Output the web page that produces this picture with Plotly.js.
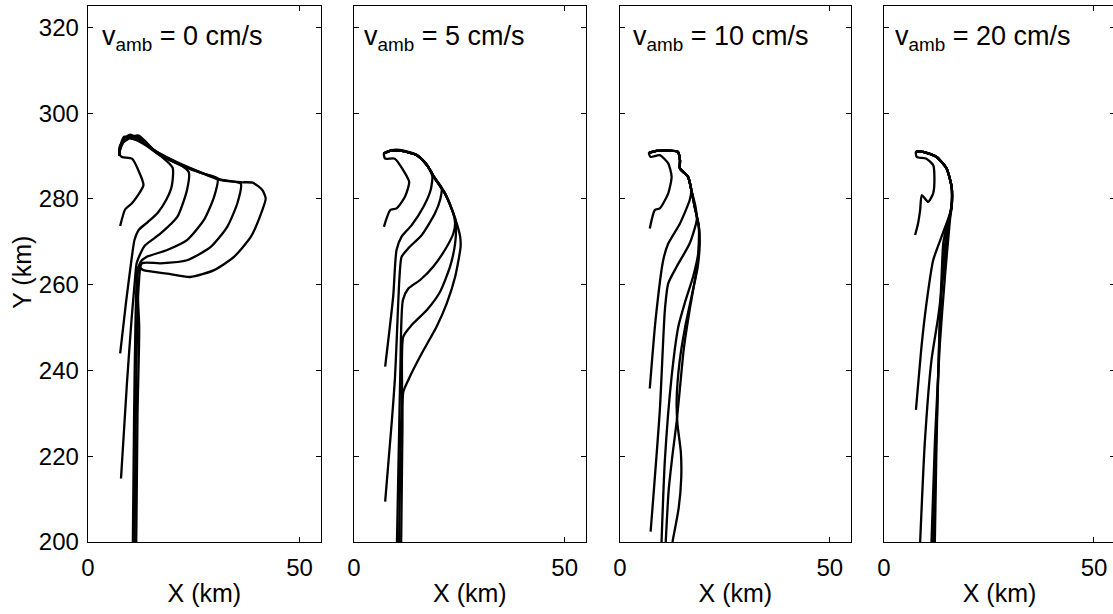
<!DOCTYPE html>
<html>
<head>
<meta charset="utf-8">
<script src="https://cdn.plot.ly/plotly-3.0.1.min.js"></script>
<style>
html,body{margin:0;padding:0;overflow:hidden;background:#fff;}
#chart{width:1120px;height:614px;}
</style>
</head>
<body>
<div id="chart"></div>
<script>
// ---------- Data (km) ----------
const panelLabels = ["v<sub>amb</sub> = 0 cm/s", "v<sub>amb</sub> = 5 cm/s", "v<sub>amb</sub> = 10 cm/s", "v<sub>amb</sub> = 20 cm/s"];
const xTicks = [0, 50];
const yTicks = [200, 220, 240, 260, 280, 300, 320];
const xTitle = "X (km)";
const yTitle = "Y (km)";

// Panel 1 (v_amb = 0)
const p1c1x = [7.6, 8.8, 10.4, 13.1, 12.2, 10.4, 8.0, 7.4, 8.0, 9.2, 11.5, 14.5, 17.5, 19.5];
const p1c1y = [273.7, 277.6, 279.0, 283.2, 286.0, 289.4, 289.8, 290.6, 292.5, 294.2, 294.6, 292.2, 290.0, 289.2];
const p1c2x = [7.6, 9.0, 10.3, 11.0, 12.0, 14.0, 16.5, 18.5, 19.8, 20.0, 17.0, 14.0, 11.2, 9.0, 7.7, 7.4];
const p1c2y = [244.0, 256.0, 266.0, 270.5, 272.8, 274.5, 276.8, 279.8, 283.0, 287.3, 290.2, 292.3, 293.8, 294.4, 292.3, 290.3];
const p1c3x = [7.8, 9.2, 10.3, 11.0, 11.5, 12.4, 13.5, 17.1, 21.1, 23.4, 23.8, 21.5, 18.0, 15.0, 12.5, 10.0, 8.3, 7.5];
const p1c3y = [214.8, 237.0, 252.0, 260.0, 265.0, 267.3, 269.2, 271.9, 275.8, 282.1, 286.3, 288.2, 290.0, 291.8, 293.5, 295.0, 293.8, 291.0];
const p1c4x = [10.6, 10.9, 11.2, 11.6, 12.4, 13.9, 18.7, 23.4, 27.4, 29.8, 30.6, 27.0, 24.0, 19.5, 16.0, 13.0, 10.5, 8.5, 7.4];
const p1c4y = [200.0, 230.0, 250.0, 262.0, 265.3, 266.5, 268.1, 270.4, 275.1, 280.5, 284.8, 286.0, 287.0, 289.0, 291.0, 293.5, 294.0, 294.5, 291.5];
const p1c5x = [11.0, 11.3, 11.6, 12.0, 12.7, 17.1, 23.4, 29.0, 32.9, 35.3, 36.1, 31.4, 24.2, 19.5, 15.5, 12.0, 9.5, 7.6, 7.4];
const p1c5y = [200.0, 230.0, 250.0, 260.0, 265.0, 265.0, 265.7, 268.8, 273.5, 279.0, 283.6, 284.5, 287.2, 289.3, 291.5, 294.8, 294.0, 292.5, 290.0];
const p1c6x = [11.4, 11.7, 12.1, 11.6, 11.9, 13.1, 18.7, 24.2, 29.8, 34.5, 38.5, 41.2, 42.0, 41.2, 38.9, 36.1, 31.4, 24.2, 19.5, 16.5, 13.9, 11.6, 8.8, 7.6, 7.4];
const p1c6y = [200.0, 230.0, 250.0, 262.0, 264.2, 263.4, 262.6, 261.8, 263.4, 266.5, 271.2, 277.4, 280.1, 282.1, 283.8, 283.9, 284.4, 287.1, 289.0, 290.5, 292.5, 294.6, 294.4, 292.1, 290.3];

// Panel 2 (v_amb = 5)
const p2c1x = [7.1, 8.6, 10.1, 12.1, 13.1, 11.7, 9.7, 7.4, 7.1, 8.6, 11.3, 14.9, 17.3, 19.2, 21.6];
const p2c1y = [273.5, 277.4, 277.8, 280.5, 284.0, 286.7, 289.4, 289.4, 290.6, 291.2, 291.2, 290.2, 287.9, 284.8, 281.3];
const p2c2x = [7.4, 9.3, 10.1, 11.3, 13.7, 16.5, 18.2, 18.6, 17.3, 14.9, 11.3, 8.6, 7.1];
const p2c2y = [240.9, 257.2, 268.1, 271.2, 273.9, 278.2, 282.1, 285.3, 288.0, 290.3, 291.4, 291.3, 290.6];
const p2c3x = [7.4, 9.0, 9.7, 10.1, 10.8, 11.3, 12.9, 16.1, 19.2, 20.5, 20.8, 19.2, 17.3, 14.9, 11.3, 8.6, 7.1];
const p2c3y = [209.4, 228.4, 237.8, 246.3, 261.8, 266.5, 268.5, 271.6, 276.6, 280.0, 282.6, 284.9, 287.9, 290.2, 291.2, 291.2, 290.6];
const p2c4x = [10.2, 10.6, 11.0, 11.6, 12.9, 15.7, 18.8, 22.0, 23.6, 24.0, 23.5, 21.6, 19.2, 17.3, 14.9, 11.3, 8.6, 7.1];
const p2c4y = [200.0, 220.0, 240.0, 256.4, 259.1, 261.1, 264.2, 268.8, 272.0, 274.3, 276.8, 281.3, 284.8, 287.9, 290.2, 291.2, 291.2, 290.6];
const p2c5x = [10.7, 11.0, 11.4, 11.7, 13.7, 17.3, 20.4, 22.8, 24.0, 24.2, 24.0, 21.6, 19.2, 17.3, 14.9, 11.3, 8.6, 7.1];
const p2c5y = [200.0, 220.0, 235.0, 247.9, 250.6, 254.1, 258.3, 264.2, 269.6, 273.9, 275.5, 281.3, 284.8, 287.9, 290.2, 291.2, 291.2, 290.6];
const p2c6x = [11.2, 11.5, 11.7, 12.9, 16.1, 19.6, 22.0, 24.0, 25.3, 25.2, 24.0, 21.6, 19.2, 17.3, 14.9, 11.3, 8.6, 7.1];
const p2c6y = [200.0, 226.1, 235.0, 237.8, 244.0, 250.2, 255.6, 261.8, 268.8, 271.2, 275.5, 281.3, 284.8, 287.9, 290.2, 291.2, 291.2, 290.6];

// Panel 3 (v_amb = 10)
const p3c1x = [7.1, 8.3, 9.5, 11.5, 12.3, 11.5, 9.5, 7.3, 6.9, 8.7, 13.8, 14.3, 14.3, 16.2, 17.0];
const p3c1y = [273.1, 277.4, 277.8, 281.3, 285.2, 288.3, 290.2, 289.8, 290.7, 291.2, 291.0, 289.0, 287.1, 285.2, 282.1];
const p3c2x = [7.1, 8.5, 10.3, 11.5, 14.3, 16.6, 17.0, 16.2, 14.3, 14.3, 13.8, 8.7, 6.9];
const p3c2y = [235.8, 252.0, 265.7, 269.6, 274.3, 279.7, 282.1, 285.2, 287.1, 289.0, 291.0, 291.2, 290.7];
const p3c3x = [7.3, 9.5, 10.7, 11.5, 13.5, 16.6, 18.3, 18.0, 17.0, 16.2, 14.3, 14.3, 13.8, 8.7, 6.9];
const p3c3y = [202.4, 230.8, 254.1, 260.3, 264.2, 269.6, 275.1, 278.2, 282.1, 285.2, 287.1, 289.0, 291.0, 291.2, 290.7];
const p3c4x = [9.9, 10.7, 12.3, 13.9, 15.4, 17.4, 18.6, 18.8, 17.8, 17.0, 16.2, 14.3, 14.3, 13.8, 8.7, 6.9];
const p3c4y = [200.0, 219.1, 238.5, 250.2, 255.6, 261.8, 267.0, 273.5, 278.2, 282.1, 285.2, 287.1, 289.0, 291.0, 291.2, 290.7];
const p3c5x = [10.9, 11.6, 12.6, 13.5, 14.3, 15.2, 16.6, 18.0, 18.8, 18.8, 17.8, 17.0, 16.2, 14.3, 14.3, 13.8, 8.7, 6.9];
const p3c5y = [200.0, 212.0, 221.0, 228.0, 236.0, 245.0, 254.1, 262.0, 268.0, 273.5, 278.2, 282.1, 285.2, 287.1, 289.0, 291.0, 291.2, 290.7];
const p3c6x = [12.5, 14.0, 14.6, 14.5, 13.7, 13.5, 14.2, 15.5, 17.0, 18.5, 19.0, 18.8, 17.8, 17.0, 16.2, 14.3, 14.3, 13.8, 8.7, 6.9];
const p3c6y = [200.0, 208.0, 215.0, 221.0, 227.5, 233.0, 242.0, 250.0, 257.0, 264.0, 269.6, 273.5, 278.2, 282.1, 285.2, 287.1, 289.0, 291.0, 291.2, 290.7];

// Panel 4 (v_amb = 20)
const p4c1x = [7.4, 8.1, 8.6, 9.0, 10.5, 11.7, 12.0, 11.7, 10.1, 7.8, 7.6, 9.3, 12.5, 14.9, 16.1];
const p4c1y = [271.6, 274.3, 277.4, 280.9, 279.3, 281.3, 285.2, 287.9, 289.4, 289.8, 291.0, 291.0, 289.8, 287.1, 282.8];
const p4c2x = [7.6, 9.0, 10.1, 11.7, 13.7, 15.7, 16.1, 16.1, 14.9, 12.5, 9.3, 7.6];
const p4c2y = [230.8, 246.3, 255.6, 265.7, 271.2, 276.6, 279.0, 282.8, 287.1, 289.8, 291.0, 291.0];
const p4c3x = [8.6, 9.7, 11.3, 12.9, 14.5, 15.5, 16.1, 16.1, 14.9, 12.5, 9.3, 7.6];
const p4c3y = [200.0, 223.0, 242.4, 252.5, 265.7, 275.1, 278.2, 282.8, 287.1, 289.8, 291.0, 291.0];
const p4c4x = [11.3, 12.1, 13.3, 14.5, 15.7, 16.1, 16.1, 14.9, 12.5, 9.3, 7.6];
const p4c4y = [200.0, 223.0, 246.3, 261.8, 275.1, 278.2, 282.8, 287.1, 289.8, 291.0, 291.0];
const p4c5x = [11.7, 12.4, 13.2, 14.1, 15.2, 16.1, 16.1, 14.9, 12.5, 9.3, 7.6];
const p4c5y = [200.0, 223.0, 248.0, 265.0, 274.0, 278.2, 282.8, 287.1, 289.8, 291.0, 291.0];
const p4c6x = [12.1, 12.5, 12.9, 13.3, 13.7, 14.1, 14.9, 16.1, 16.1, 14.9, 12.5, 9.3, 7.6];
const p4c6y = [200.0, 223.0, 238.5, 252.5, 261.8, 269.6, 273.5, 278.2, 282.8, 287.1, 289.8, 291.0, 291.0];

// ---------- Build ----------
const panels = [
  [[p1c1x,p1c1y],[p1c2x,p1c2y],[p1c3x,p1c3y],[p1c4x,p1c4y],[p1c5x,p1c5y],[p1c6x,p1c6y]],
  [[p2c1x,p2c1y],[p2c2x,p2c2y],[p2c3x,p2c3y],[p2c4x,p2c4y],[p2c5x,p2c5y],[p2c6x,p2c6y]],
  [[p3c1x,p3c1y],[p3c2x,p3c2y],[p3c3x,p3c3y],[p3c4x,p3c4y],[p3c5x,p3c5y],[p3c6x,p3c6y]],
  [[p4c1x,p4c1y],[p4c2x,p4c2y],[p4c3x,p4c3y],[p4c4x,p4c4y],[p4c5x,p4c5y],[p4c6x,p4c6y]]
];
const FONT = "Liberation Sans, Arial, Helvetica, sans-serif";
const traces = [];
panels.forEach((curves, i) => {
  const sfx = i === 0 ? "" : String(i + 1);
  curves.forEach(c => {
    traces.push({
      x: c[0], y: c[1], type: "scatter", mode: "lines",
      xaxis: "x" + sfx, yaxis: "y" + sfx,
      line: {color: "#000", width: 2.3, shape: "spline", smoothing: 0.6},
      hoverinfo: "skip", showlegend: false
    });
  });
});

const domains = [[0, 0.2266], [0.2590, 0.4846], [0.5180, 0.7427], [0.7751, 1]];
const annX = [2.8, 1.9, 2.6, 2.1];
const layout = {
  width: 1120, height: 614,
  margin: {l: 88, r: 5, t: 6, b: 72},
  paper_bgcolor: "#fff", plot_bgcolor: "#fff",
  font: {family: FONT, size: 22, color: "#000"},
  showlegend: false,
  annotations: [{
    text: yTitle, xref: "paper", yref: "paper",
    x: -0.0643, y: 0.504, xanchor: "center", yanchor: "middle",
    textangle: -90, showarrow: false,
    font: {family: FONT, size: 25, color: "#000"}
  }]
};
domains.forEach((d, i) => {
  const sfx = i === 0 ? "" : String(i + 1);
  layout["xaxis" + sfx] = {
    domain: d, range: [0, 55], anchor: "y" + sfx,
    tickvals: xTicks, ticktext: xTicks.map(String),
    ticks: "inside", ticklen: 5, tickwidth: 1, tickcolor: "#000",
    showline: true, linecolor: "#000", linewidth: 1.3, mirror: "ticks",
    showgrid: false, zeroline: false,
    tickfont: {family: FONT, size: 24, color: "#000"},
    ticklabelstandoff: 4,
    title: {text: xTitle, font: {family: FONT, size: 25, color: "#000"}, standoff: 4},
    fixedrange: true
  };
  layout["yaxis" + sfx] = {
    domain: [0, 1], range: [200, 325], anchor: "x" + sfx,
    tickvals: yTicks, ticktext: yTicks.map(String),
    showticklabels: i === 0,
    ticks: "inside", ticklen: 5, tickwidth: 1, tickcolor: "#000",
    showline: true, linecolor: "#000", linewidth: 1.3, mirror: "ticks",
    showgrid: false, zeroline: false,
    tickfont: {family: FONT, size: 24, color: "#000"},
    ticklabelstandoff: 3,
    fixedrange: true
  };
  layout.annotations.push({
    text: panelLabels[i], xref: "x" + sfx, yref: "y" + sfx,
    x: annX[i], y: 317.5, xanchor: "left", yanchor: "middle",
    showarrow: false, font: {family: FONT, size: 27, color: "#000"}
  });
});

Plotly.newPlot("chart", traces, layout, {staticPlot: true, displayModeBar: false});
</script>
</body>
</html>
